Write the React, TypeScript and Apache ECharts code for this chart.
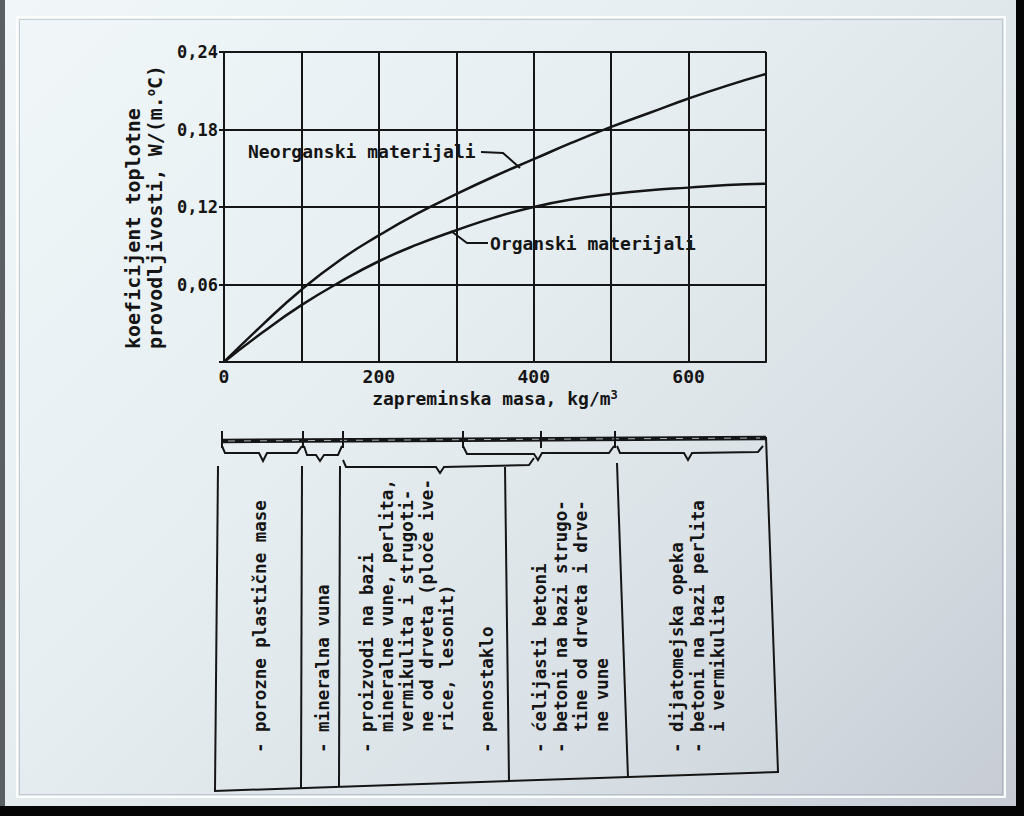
import React, { useEffect, useRef } from "react";
import * as echarts from "echarts";

// ---- data ----
const massValues = [0, 50, 100, 150, 200, 250, 300, 350, 400, 450, 500, 550, 600, 650, 700];
const neorganskiValues = [0, 0.029, 0.056, 0.079, 0.098, 0.115, 0.13, 0.144, 0.157, 0.17, 0.182, 0.193, 0.204, 0.214, 0.223];
const organskiValues = [0, 0.023, 0.044, 0.062, 0.078, 0.091, 0.102, 0.112, 0.12, 0.126, 0.13, 0.133, 0.135, 0.137, 0.138];
const seriesNames = ["Neorganski materijali", "Organski materijali"];
const xAxisRange = [0, 700, 100];
const xLabelStep = 200;
const yAxisRange = [0, 0.24, 0.06];
const yTitleLines = ["koeficijent toplotne", "provodljivosti, W/(m.{sup|o}C)"];
const xTitle = "zapreminska masa, kg/m{sup|3}";

const tableColumns = [
  ["- porozne plastične mase"],
  ["- mineralna vuna"],
  [
    "- proizvodi na bazi",
    "  mineralne vune, perlita,",
    "  vermikulita i strugoti-",
    "  ne od drveta (ploče ive-",
    "  rice, lesonit)",
    "",
    "- penostaklo",
  ],
  ["- ćelijasti betoni", "- betoni na bazi strugo-", "  tine od drveta i drve-", "  ne vune"],
  ["- dijatomejska opeka", "- betoni na bazi perlita", "  i vermikulita"],
];

// ---- layout / style ----
const FONT = '"DejaVu Sans Mono", monospace';
const INK = "#151515";
const colTextX = [260, 323, 367, 540, 677];
const colLineGap = [20, 20, 20, 20.5, 20.5];

export default function App() {
  const ref = useRef<HTMLDivElement>(null);

  useEffect(() => {
    if (!ref.current) return;
    const chart = echarts.init(ref.current, null, { renderer: "svg" });

    const ln = (x1: number, y1: number, x2: number, y2: number, w = 2) => ({
      type: "line",
      silent: true,
      shape: { x1, y1, x2, y2 },
      style: { stroke: INK, lineWidth: w },
    });
    const pl = (points: number[][], w = 2) => ({
      type: "polyline",
      silent: true,
      shape: { points },
      style: { stroke: INK, lineWidth: w, fill: null },
    });
    const txt = (text: string, x: number, y: number, size: number, rot = 0, rich?: any) => ({
      type: "text",
      silent: true,
      x,
      y,
      rotation: rot,
      style: {
        text,
        fill: INK,
        fontFamily: FONT,
        fontSize: size,
        fontWeight: "bold",
        align: "left",
        verticalAlign: "middle",
        rich,
      },
    });

    const supRich = {
      sup: { fontSize: 12, fontFamily: FONT, fontWeight: "bold", fill: INK, color: INK, verticalAlign: "top" },
    };

    const graphics: any[] = [];
    // inner photo frame
    graphics.push({
      type: "rect",
      silent: true,
      shape: { x: 17, y: 17, width: 988, height: 780 },
      style: { stroke: "#fbfdfd", lineWidth: 2, fill: null },
      z: -10,
    });
    graphics.push({
      type: "rect",
      silent: true,
      shape: { x: 19.5, y: 19.5, width: 983, height: 775 },
      style: { stroke: "rgba(120,135,145,0.35)", lineWidth: 1, fill: null },
      z: -10,
    });

    // y-axis title (two rotated lines)
    graphics.push(txt(yTitleLines[0], 133, 349, 20, Math.PI / 2, supRich));
    graphics.push(txt(yTitleLines[1], 155, 349, 20, Math.PI / 2, supRich));

    // curve labels with leaders
    graphics.push(txt(seriesNames[0], 248, 151, 18));
    graphics.push(pl([[481, 152], [503, 153], [520, 168]]));
    graphics.push(txt(seriesNames[1], 490, 243, 18));
    graphics.push(pl([[488, 243], [467, 243], [451, 231]]));

    // table: top thick rule
    graphics.push(ln(222, 441, 766, 438, 4.5));
    graphics.push({
      type: "line",
      silent: true,
      shape: { x1: 228, y1: 441, x2: 760, y2: 438 },
      style: { stroke: "#aab4b9", lineWidth: 1, lineDash: [7, 9] },
    });
    // short ticks on the rule
    [222, 303, 343, 463, 541, 615].forEach((x) => graphics.push(ln(x, 431, x, 448, 2)));

    // braces
    graphics.push(pl([[222, 446], [225, 453], [259, 453], [263, 461], [267, 453], [297, 453], [302, 446]]));
    graphics.push(pl([[304, 446], [307, 455], [316, 455], [320, 461], [324, 455], [338, 455], [342, 446]]));
    graphics.push(pl([[343, 460], [346, 467], [436, 467], [440, 473], [444, 467], [529, 465], [534, 458]]));
    graphics.push(pl([[463, 446], [467, 454], [534, 454], [538, 460], [542, 453], [609, 453], [614, 446]]));
    graphics.push(pl([[617, 446], [620, 453], [684, 453], [688, 460], [692, 453], [758, 452], [763, 446]]));

    // table box
    graphics.push(ln(218, 466, 215, 791));
    graphics.push(ln(302, 466, 301, 788));
    graphics.push(ln(340, 466, 339, 787));
    graphics.push(ln(505, 467, 509, 781));
    graphics.push(ln(617, 463, 628, 778));
    graphics.push(ln(766, 437, 778, 772));
    graphics.push(ln(214, 791, 779, 772));

    // table texts (rotated, reading upward)
    tableColumns.forEach((lines, ci) => {
      lines.forEach((line, li) => {
        if (!line) return;
        graphics.push(txt(line, colTextX[ci] + li * colLineGap[ci], 753, 17.5, Math.PI / 2));
      });
    });

    const labelStyle = { fontFamily: FONT, fontSize: 18, fontWeight: "bold", color: INK };
    const axisStroke = { color: INK, width: 2 };

    const option: any = {
      animation: false,
      backgroundColor: "transparent",
      grid: { left: 224, top: 52, width: 542, height: 310, containLabel: false, outerBoundsMode: "none" },
      xAxis: {
        type: "value",
        min: xAxisRange[0],
        max: xAxisRange[1],
        interval: xAxisRange[2],
        axisLine: { lineStyle: axisStroke },
        axisTick: { show: false },
        splitLine: { show: true, lineStyle: axisStroke },
        axisLabel: {
          ...labelStyle,
          margin: 5,
          formatter: (v: number) => (v % xLabelStep === 0 && v < xAxisRange[1] ? String(v) : ""),
        },
        name: xTitle,
        nameLocation: "middle",
        nameGap: 27,
        nameTextStyle: {
          ...labelStyle,
          rich: { sup: { fontSize: 12, fontFamily: FONT, fontWeight: "bold", color: INK, verticalAlign: "top" } },
        },
      },
      yAxis: {
        type: "value",
        min: yAxisRange[0],
        max: yAxisRange[1],
        interval: yAxisRange[2],
        axisLine: { show: true, lineStyle: axisStroke },
        axisTick: { show: true, length: 5, lineStyle: axisStroke },
        splitLine: { show: true, lineStyle: axisStroke },
        axisLabel: {
          ...labelStyle,
          fontSize: 17,
          margin: 6,
          formatter: (v: number) => (v === 0 ? "" : v.toFixed(2).replace(".", ",")),
        },
      },
      series: [
        {
          name: seriesNames[0],
          type: "line",
          smooth: 0.5,
          showSymbol: false,
          silent: true,
          lineStyle: { color: INK, width: 2.5 },
          data: massValues.map((m, i) => [m, neorganskiValues[i]]),
        },
        {
          name: seriesNames[1],
          type: "line",
          smooth: 0.5,
          showSymbol: false,
          silent: true,
          lineStyle: { color: INK, width: 2.5 },
          data: massValues.map((m, i) => [m, organskiValues[i]]),
        },
      ],
      graphic: graphics,
    };

    chart.setOption(option);
    return () => chart.dispose();
  }, []);

  return (
    <div
      style={{
        position: "fixed",
        left: 0,
        top: 0,
        width: 1024,
        height: 816,
        background: "linear-gradient(135deg, #f1f7f9 0%, #e6eef1 40%, #d9e1e6 70%, #c6cbd3 100%)",
        overflow: "hidden",
      }}
    >
      <div style={{ position: "absolute", left: 0, top: 0, width: 5, height: 816, background: "#5a5f63" }} />
      <div style={{ position: "absolute", right: 0, top: 0, width: 8, height: 816, background: "#050505" }} />
      <div style={{ position: "absolute", left: 0, bottom: 0, width: 1024, height: 10, background: "#050505" }} />
      <div ref={ref} style={{ position: "absolute", left: 0, top: 0, width: 1024, height: 816 }} />
    </div>
  );
}
